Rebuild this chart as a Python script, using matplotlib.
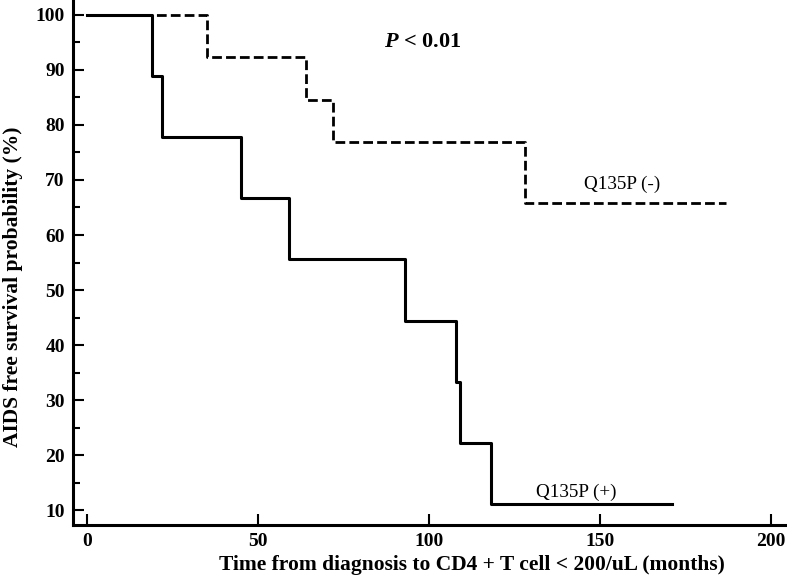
import matplotlib.pyplot as plt
from matplotlib.ticker import MultipleLocator

plt.rcParams['font.family'] = ['Liberation Serif', 'DejaVu Serif']
plt.rcParams['mathtext.fontset'] = 'custom'
plt.rcParams['mathtext.it'] = 'Liberation Serif:italic:bold'
plt.rcParams['mathtext.rm'] = 'Liberation Serif:bold'

# Kaplan-Meier steps
# Q135P (+)
pos_times = [0, 19, 22, 45, 59, 93, 108, 109, 118, 171]
pos_surv = [100, 88.9, 77.8, 66.7, 55.6, 44.4, 33.3, 22.2, 11.1, 11.1]
# Q135P (-)
neg_times = [0, 35, 64, 72, 128, 187]
neg_surv = [100, 92.3, 84.6, 76.9, 65.9, 65.9]

x_ticks = [0, 50, 100, 150, 200]
y_ticks = [10, 20, 30, 40, 50, 60, 70, 80, 90, 100]

fig = plt.figure(figsize=(7.87, 5.77), dpi=100)
ax = fig.add_axes([0.093, 0.09, 0.907, 0.91])

# step curves
ax.step(pos_times, pos_surv, where='post', color='black', lw=2.2)
ax.step(neg_times, neg_surv, where='post', color='black', lw=2.0,
        linestyle=(0, (3.5, 1.5)))

ax.set_xlim(-4.1, 204.7)
ax.set_ylim(7.3, 102.7)

ax.set_xticks(x_ticks)
ax.set_yticks(y_ticks)
ax.yaxis.set_minor_locator(MultipleLocator(5))

ax.tick_params(axis='both', which='major', direction='in', length=8, width=1.5,
               labelsize=14, pad=6)
ax.tick_params(axis='y', which='minor', direction='in', length=5, width=1.5)
for lab in ax.get_xticklabels() + ax.get_yticklabels():
    lab.set_fontweight('bold')

for s in ['top', 'right']:
    ax.spines[s].set_visible(False)
for s in ['left', 'bottom']:
    ax.spines[s].set_linewidth(2.2)

ax.set_xlabel('Time from diagnosis to CD4 + T cell < 200/uL (months)',
              fontsize=15.5, fontweight='bold', va='center')
ax.set_ylabel('AIDS free survival probability (%)',
              fontsize=15.5, fontweight='bold', va='center')
ax.xaxis.set_label_coords(0.559, -0.076)
ax.yaxis.set_label_coords(-0.085, 0.453)

ax.text(98, 95, r'$\mathit{P}$ < 0.01', fontsize=16, fontweight='bold',
        ha='center', va='center')
ax.text(156.5, 69.2, 'Q135P (-)', fontsize=13.8, ha='center', va='center')
ax.text(143, 13.2, 'Q135P (+)', fontsize=13.8, ha='center', va='center')

fig.savefig('out.png', dpi=100)
